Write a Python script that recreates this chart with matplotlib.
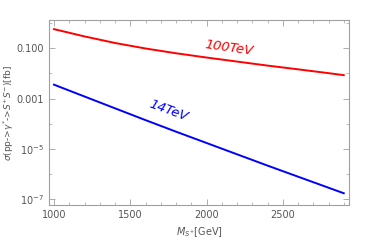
import matplotlib
matplotlib.use("Agg")
import matplotlib.pyplot as plt
from matplotlib.ticker import FixedLocator, NullFormatter

# cross sections, in fb
mass = [1000, 1200, 1400, 1600, 1800, 2000, 2200, 2400, 2600, 2800, 2900]
xsec_100 = [0.575, 0.295, 0.162, 0.0977, 0.0631, 0.0427, 0.0295, 0.0204, 0.0145, 0.0102, 0.0085]
xsec_14 = [3.55e-3, 1.20e-3, 4.07e-4, 1.38e-4, 4.79e-5, 1.70e-5, 6.03e-6, 2.14e-6, 7.76e-7, 2.82e-7, 1.70e-7]

ytick_vals = [1e-1, 1e-3, 1e-5, 1e-7]
ytick_labels = ['0.100', '0.001', r'$10^{-5}$', r'$10^{-7}$']
xtick_vals = [1000, 1500, 2000, 2500]

frame = '#a0a0a0'
txt = '#555555'

fig = plt.figure(figsize=(3.74, 2.45), dpi=100)
ax = fig.add_axes([0.131, 0.163, 0.802, 0.755])

ax.plot(mass, xsec_100, color='#ff0000', lw=1.4)
ax.plot(mass, xsec_14, color='#0000ff', lw=1.4)

ax.set_yscale('log')
ax.set_xlim(967, 2934)
ax.set_ylim(10**-7.24, 10**0.12)

ax.yaxis.set_major_locator(FixedLocator(ytick_vals))
ax.set_yticklabels(ytick_labels)
ax.yaxis.set_minor_locator(FixedLocator([1, 1e-2, 1e-4, 1e-6]))
ax.yaxis.set_minor_formatter(NullFormatter())
ax.xaxis.set_major_locator(FixedLocator(xtick_vals))
ax.xaxis.set_minor_locator(FixedLocator(list(range(1000, 3000, 100))))

ax.tick_params(which='both', direction='in', top=True, right=True,
               color=frame, labelsize=7, labelcolor=txt)
ax.tick_params(which='major', length=4, width=0.6)
ax.tick_params(which='minor', length=2, width=0.5)
for s in ax.spines.values():
    s.set_color(frame)
    s.set_linewidth(0.8)

ax.set_xlabel(r'$M_{S^{+}}$[GeV]', fontsize=7, color=txt)
ax.set_ylabel(r'$\sigma$(pp->$\gamma^{*}$->$S^{+}S^{-}$)[fb]', fontsize=6.5, color=txt)
ax.yaxis.set_label_coords(-0.11, 0.5)

ax.text(2145, 0.1, '100TeV', color='#ff0000', fontsize=9.5, style='italic',
        rotation=-8, ha='center', va='center')
ax.text(1750, 10**-3.48, '14TeV', color='#0000ff', fontsize=9.5, style='italic',
        rotation=-20, ha='center', va='center')

fig.savefig('out.png', dpi=100)
